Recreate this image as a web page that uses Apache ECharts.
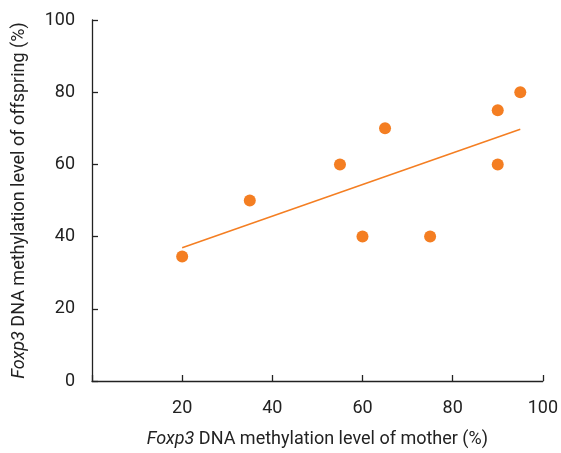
<!DOCTYPE html>
<html><head><meta charset="utf-8">
<script src="https://cdn.jsdelivr.net/npm/echarts@6/dist/echarts.min.js"></script>
<style>html,body{margin:0;padding:0;background:#fff}#c{width:561px;height:453px}</style>
</head><body><div id="c"></div>
<script>
var motherLevel = [20, 35, 55, 60, 65, 75, 90, 90, 95];
var offspringLevel = [34.5, 50, 60, 40, 70, 40, 75, 60, 80];
var xTicks = [0, 20, 40, 60, 80, 100];
var yTicks = [0, 20, 40, 60, 80, 100];

var pts = motherLevel.map(function(x, i){ return [x, offspringLevel[i]]; });
// least-squares trend line
var n = pts.length, mx = 0, my = 0;
pts.forEach(function(p){ mx += p[0]; my += p[1]; });
mx /= n; my /= n;
var sxx = 0, sxy = 0;
pts.forEach(function(p){ sxx += (p[0]-mx)*(p[0]-mx); sxy += (p[0]-mx)*(p[1]-my); });
var slope = sxy / sxx, icpt = my - slope * mx;
var xmin = Math.min.apply(null, motherLevel), xmax = Math.max.apply(null, motherLevel);
var trend = [[xmin, icpt + slope * xmin], [xmax, icpt + slope * xmax]];

var FONT = "'Liberation Sans Narrow', 'Roboto', sans-serif";
var orange = '#f47e22';
var chart = echarts.init(document.getElementById('c'));
chart.setOption({
  animation: false,
  grid: { left: 92, right: 15, top: 20, bottom: 70 },
  xAxis: {
    type: 'value', min: 0, max: 100, interval: 20,
    axisLine: { lineStyle: { color: '#222', width: 1.3 } },
    axisTick: { show: true, inside: true, length: 6, lineStyle: { color: '#222', width: 1.3 } },
    splitLine: { show: false },
    axisLabel: { color: '#222', fontSize: 18, fontFamily: FONT, margin: 18,
      formatter: function(v){ return v === 0 ? '' : String(v); } },
    name: '{i|Foxp3} DNA methylation level of mother (%)',
    nameLocation: 'middle', nameGap: 49,
    nameTextStyle: { color: '#222', fontSize: 18, fontFamily: FONT,
      rich: { i: { fontStyle: 'italic', fontSize: 18, fontFamily: FONT, color: '#222' } } }
  },
  yAxis: {
    type: 'value', min: 0, max: 100, interval: 20,
    axisLine: { show: true, lineStyle: { color: '#222', width: 1.3 } },
    axisTick: { show: true, inside: true, length: 6, lineStyle: { color: '#222', width: 1.3 } },
    splitLine: { show: false },
    axisLabel: { color: '#222', fontSize: 18, fontFamily: FONT, margin: 17 },
    name: '{i|Foxp3} DNA methylation level of offspring (%)',
    nameLocation: 'middle', nameGap: 64, nameRotate: 90,
    nameTextStyle: { color: '#222', fontSize: 18, fontFamily: FONT,
      rich: { i: { fontStyle: 'italic', fontSize: 18, fontFamily: FONT, color: '#222' } } }
  },
  series: [
    { type: 'line', data: trend, symbol: 'none', lineStyle: { color: orange, width: 1.5 }, z: 1 },
    { type: 'scatter', data: pts, symbolSize: 12, itemStyle: { color: orange, opacity: 1 }, z: 2 }
  ]
});
</script></body></html>
